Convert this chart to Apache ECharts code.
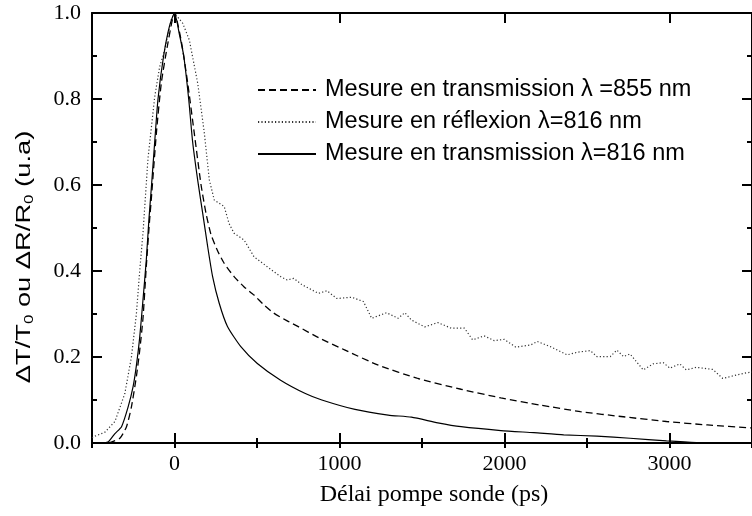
<!DOCTYPE html>
<html>
<head>
<meta charset="utf-8">
<script src="https://cdn.jsdelivr.net/npm/echarts@6/dist/echarts.min.js"></script>
<style>
  html, body { margin: 0; padding: 0; background: #fff; }
  #chart { width: 752px; height: 516px; }
</style>
</head>
<body>
<div id="chart"></div>
<script>
// Transmission, lambda = 855 nm (dashed)
const trans855X = [-400, -331, -291, -261, -231, -211, -191, -171, -151, -141, -110, -80, -40, 0, 40, 80, 120, 161, 191, 221, 261, 301, 361, 422, 482, 542, 602, 683, 753, 873, 1034, 1235, 1476, 1737, 1978, 2220, 2460, 2720, 2982, 3230, 3500]
const trans855Y = [0, 0.011, 0.038, 0.084, 0.155, 0.215, 0.29, 0.41, 0.518, 0.565, 0.72, 0.837, 0.93, 1.0, 0.937, 0.837, 0.72, 0.6, 0.534, 0.485, 0.447, 0.418, 0.387, 0.363, 0.344, 0.321, 0.302, 0.284, 0.27, 0.245, 0.216, 0.181, 0.15, 0.125, 0.105, 0.088, 0.073, 0.061, 0.05, 0.042, 0.035]

// Reflexion, lambda = 816 nm (dotted)
const refl816X = [-500, -482, -422, -361, -301, -261, -231, -211, -191, -161, -120, -90, -60, -20, 0, 50, 90, 141, 181, 211, 241, 301, 331, 361, 422, 482, 562, 643, 683, 723, 773, 873, 924, 984, 1074, 1145, 1195, 1285, 1355, 1396, 1436, 1516, 1596, 1677, 1757, 1807, 1877, 1938, 1998, 2068, 2159, 2199, 2279, 2380, 2440, 2520, 2560, 2641, 2681, 2721, 2761, 2841, 2901, 2962, 3002, 3062, 3102, 3163, 3263, 3323, 3404, 3464, 3500]
const refl816Y = [0.012, 0.016, 0.025, 0.05, 0.115, 0.2, 0.3, 0.4, 0.488, 0.66, 0.805, 0.875, 0.914, 0.984, 1.0, 0.976, 0.937, 0.836, 0.72, 0.612, 0.565, 0.55, 0.51, 0.488, 0.472, 0.433, 0.41, 0.387, 0.379, 0.383, 0.368, 0.348, 0.354, 0.336, 0.339, 0.329, 0.29, 0.303, 0.29, 0.303, 0.286, 0.27, 0.28, 0.267, 0.267, 0.24, 0.249, 0.238, 0.241, 0.223, 0.228, 0.236, 0.224, 0.205, 0.211, 0.215, 0.201, 0.201, 0.216, 0.201, 0.207, 0.17, 0.184, 0.187, 0.174, 0.184, 0.17, 0.176, 0.171, 0.15, 0.158, 0.163, 0.165]

// Transmission, lambda = 816 nm (solid)
const trans816X = [-430, -400, -361, -321, -281, -251, -231, -211, -191, -171, -155, -141, -120, -100, -66, -30, 0, 30, 56, 86, 110, 141, 171, 201, 231, 271, 321, 402, 502, 643, 793, 893, 1094, 1295, 1436, 1596, 1737, 1978, 2178, 2359, 2560, 2761, 2982, 3163, 3300, 3500]
const trans816Y = [0, 0.003, 0.022, 0.038, 0.084, 0.131, 0.18, 0.245, 0.333, 0.425, 0.52, 0.59, 0.7, 0.8, 0.9, 0.97, 1.0, 0.95, 0.9, 0.8, 0.7, 0.61, 0.534, 0.457, 0.387, 0.325, 0.271, 0.224, 0.185, 0.146, 0.115, 0.1, 0.078, 0.065, 0.06, 0.047, 0.038, 0.029, 0.024, 0.019, 0.016, 0.011, 0.005, 0.001, 0, 0]

const seriesNames = [
  'Mesure en transmission λ =855 nm',
  'Mesure en réflexion λ=816 nm',
  'Mesure en transmission λ=816 nm'
]

// labelled (long) ticks on the delay axis
const delayTicks = [0, 1000, 2000, 3000]

const SERIF = 'Liberation Serif'
const SANS = 'Liberation Sans'

function zip(xs, ys) {
  return xs.map((x, i) => [x, ys[i]])
}

const black = { color: '#000', width: 2 }

function frameAxis(base) {
  return Object.assign({
    type: 'value',
    axisLine: { show: true, onZero: false, lineStyle: black },
    axisTick: { show: true, inside: true, length: 10, lineStyle: black },
    axisLabel: { show: false },
    splitLine: { show: false }
  }, base)
}

// long ticks at multiples of 1000, short ticks every 500
function delayAxis(position, withLabels) {
  return [
    frameAxis({
      position,
      min: -500,
      max: 3500,
      interval: 500,
      axisTick: { show: true, inside: true, length: 10, lineStyle: black, customValues: delayTicks },
      axisLabel: withLabels ? {
        show: true,
        customValues: delayTicks,
        fontFamily: SERIF,
        fontSize: 22,
        color: '#000',
        margin: 10,
        formatter: (v) => String(v)
      } : { show: false },
      name: withLabels ? 'Délai pompe sonde (ps)' : '',
      nameLocation: 'middle',
      nameGap: 40,
      nameTextStyle: { fontFamily: SERIF, fontSize: 24, color: '#000', padding: [0, 0, 0, 24] }
    }),
    frameAxis({
      position,
      min: -500,
      max: 3500,
      interval: 500,
      axisLine: { show: false },
      axisTick: { show: true, inside: true, length: 5, lineStyle: black }
    })
  ]
}

function signalAxis(position, withLabels) {
  return frameAxis({
    position,
    min: 0,
    max: 1,
    interval: 0.2,
    minorTick: { show: true, splitNumber: 2, length: 5, lineStyle: black },
    axisLabel: withLabels ? {
      show: true,
      fontFamily: SERIF,
      fontSize: 22,
      color: '#000',
      margin: 11,
      formatter: (v) => v.toFixed(1)
    } : { show: false }
  })
}

const chart = echarts.init(document.getElementById('chart'))

chart.setOption({
  animation: false,
  backgroundColor: '#fff',
  grid: { left: 92, top: 13, right: -4, bottom: 73 },
  legend: {
    orient: 'vertical',
    left: 252,
    top: 73,
    itemWidth: 58,
    itemHeight: 10,
    itemGap: 8,
    data: seriesNames,
    itemStyle: { color: 'transparent', borderColor: 'transparent', borderWidth: 0 },
    textStyle: { fontFamily: SANS, fontSize: 23.5, lineHeight: 24, color: '#000', padding: [0, 0, 0, 4] }
  },
  xAxis: [...delayAxis('bottom', true), ...delayAxis('top', false)],
  yAxis: [signalAxis('left', true), signalAxis('right', false)],
  graphic: [{
    type: 'text',
    x: 24,
    y: 257,
    rotation: Math.PI / 2,
    scaleX: 1.3,
    style: {
      text: 'ΔT/T{s|0} ou ΔR/R{s|0} (u.a)',
      fontFamily: SANS,
      fontSize: 21,
      fill: '#000',
      align: 'center',
      verticalAlign: 'middle',
      rich: {
        s: { fontFamily: SANS, fontSize: 13, fill: '#000', padding: [10, 0, 0, 0] }
      }
    }
  }],
  series: [
    {
      name: seriesNames[0],
      type: 'line',
      symbol: 'none',
      smooth: 0.2,
      data: zip(trans855X, trans855Y),
      itemStyle: { color: '#000' },
      lineStyle: { color: '#000', width: 1.3, type: [7, 4] }
    },
    {
      name: seriesNames[1],
      type: 'line',
      symbol: 'none',
      data: zip(refl816X, refl816Y),
      itemStyle: { color: '#333' },
      lineStyle: { color: '#333', width: 1.2, type: [1.2, 2.2] }
    },
    {
      name: seriesNames[2],
      type: 'line',
      symbol: 'none',
      smooth: 0.2,
      data: zip(trans816X, trans816Y),
      itemStyle: { color: '#000' },
      lineStyle: { color: '#000', width: 1.2, type: 'solid' }
    }
  ]
})
</script>
</body>
</html>
